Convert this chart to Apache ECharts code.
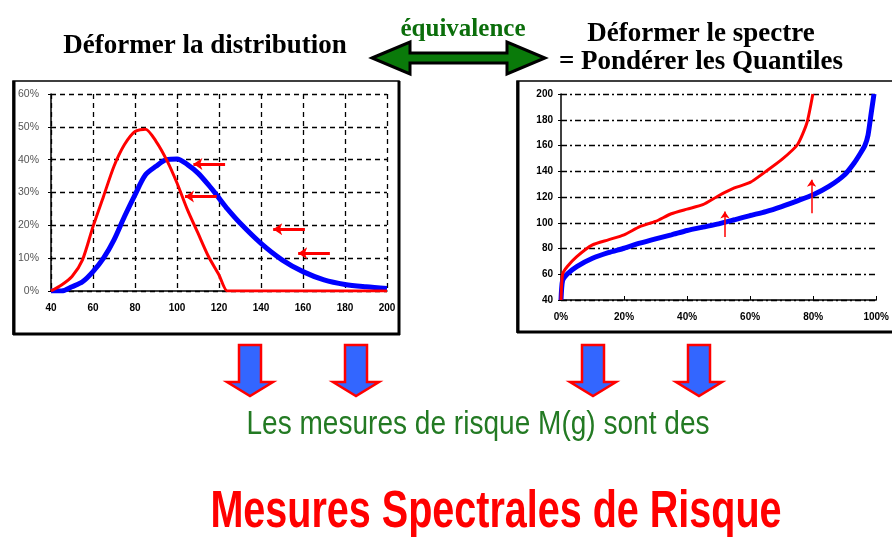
<!DOCTYPE html>
<html>
<head>
<meta charset="utf-8">
<script src="https://cdn.jsdelivr.net/npm/echarts@6/dist/echarts.min.js"></script>
<style>html,body{margin:0;padding:0;background:#fff;}#c{width:892px;height:537px;}</style>
</head>
<body>
<div id="c"></div>
<script>
// ---- Left chart: densities ----
const distX      = [40, 45, 50, 55, 60, 65, 70, 75, 80, 85, 90, 95, 100, 105, 110, 115, 120, 124, 130, 140, 150, 160, 170, 180, 190, 200];
const distRed    = [0, 0.018, 0.044, 0.095, 0.196, 0.288, 0.38, 0.446, 0.486, 0.493, 0.456, 0.40, 0.329, 0.247, 0.176, 0.105, 0.049, 0, 0, 0, 0, 0, 0, 0, 0, 0];
const distBlue   = [0, 0, 0.013, 0.028, 0.059, 0.10, 0.156, 0.227, 0.293, 0.354, 0.38, 0.40, 0.402, 0.385, 0.359, 0.323, 0.283, 0.25, 0.207, 0.145, 0.095, 0.059, 0.034, 0.02, 0.013, 0.008];
const distXTicks = [40, 60, 80, 100, 120, 140, 160, 180, 200];
const distYTicks = ['0%', '10%', '20%', '30%', '40%', '50%', '60%'];
// arrows (from -> to) on the left chart
const distArrows = [
  [[122.9, 0.387], [107.8, 0.387]],
  [[118.9, 0.288], [103.8, 0.288]],
  [[160.9, 0.188], [145.8, 0.188]],
  [[172.8, 0.115], [157.7, 0.115]]
];

// ---- Right chart: quantile functions ----
const quantRedP  = [0, 0.005, 0.02, 0.05, 0.10, 0.15, 0.20, 0.25, 0.30, 0.35, 0.40, 0.45, 0.50, 0.55, 0.60, 0.65, 0.70, 0.75, 0.78, 0.799];
const quantRedQ  = [40, 60, 66, 73.7, 82.8, 86.7, 90.6, 97, 101, 107, 110.6, 114, 121, 127, 131.3, 139.9, 149, 160.6, 177.5, 200];
const quantBlueP = [0, 0.005, 0.02, 0.05, 0.10, 0.15, 0.20, 0.25, 0.30, 0.35, 0.40, 0.45, 0.50, 0.55, 0.60, 0.65, 0.70, 0.75, 0.80, 0.85, 0.90, 0.93, 0.95, 0.964, 0.974, 0.984, 0.993];
const quantBlueQ = [40, 55, 60.2, 66, 72.4, 76.8, 80.2, 84.1, 87.5, 90.6, 94, 96.6, 99.1, 102.3, 105.6, 108.7, 112.6, 117, 121.7, 128.2, 137.3, 146.4, 154, 160, 168, 185, 200];
const quantXTicks = ['0%', '20%', '40%', '60%', '80%', '100%'];
const quantYTicks = [40, 60, 80, 100, 120, 140, 160, 180, 200];
const quantArrows = [
  [[0.52, 89], [0.52, 108.7]],
  [[0.795, 107.4], [0.795, 133.4]]
];

const pairs = (xs, ys) => xs.map((x, i) => [x, ys[i]]);

const chart = echarts.init(document.getElementById('c'), null, {renderer: 'canvas'});

const boldLbl = {color: '#000', fontFamily: 'Liberation Sans, Arial', fontWeight: 'bold', fontSize: 10};

function downArrow(cx) {
  const t = 345, sb = 382, tip = 396, sw = 11, hw = 23;
  return {
    type: 'polygon', z: 10,
    shape: {points: [[cx - sw, t], [cx + sw, t], [cx + sw, sb], [cx + hw, sb], [cx, tip], [cx - hw, sb], [cx - sw, sb]]},
    style: {fill: '#3366ff', stroke: '#ff0000', lineWidth: 2.5, lineJoin: 'miter'}
  };
}

const option = {
  backgroundColor: '#fff',
  animation: false,
  grid: [
    {left: 51, top: 94, width: 336, height: 197},
    {left: 561, top: 94, width: 322, height: 206}
  ],
  xAxis: [
    {
      type: 'value', gridIndex: 0, min: 40, max: 200, interval: 20,
      axisLine: {show: true, lineStyle: {color: '#000', width: 1.5}},
      axisTick: {show: false},
      axisLabel: Object.assign({margin: 12, formatter: v => distXTicks.includes(v) ? String(v) : ''}, boldLbl),
      splitLine: {show: true, lineStyle: {color: '#000', type: [5, 4], width: 1.3}}
    },
    {
      type: 'value', gridIndex: 1, min: 0, max: 1, interval: 0.2,
      axisLine: {show: true, lineStyle: {color: '#000', width: 1.5}},
      axisTick: {show: true, inside: true, length: 4, lineStyle: {color: '#000'}},
      axisLabel: Object.assign({margin: 12, formatter: v => quantXTicks[Math.round(v * 5)] || ''}, boldLbl),
      splitLine: {show: false}
    }
  ],
  yAxis: [
    {
      type: 'value', gridIndex: 0, min: 0, max: 0.6, interval: 0.1,
      axisLine: {show: true, lineStyle: {color: '#000', width: 1.5}},
      axisTick: {show: true, length: 3, lineStyle: {color: '#000'}},
      axisLabel: {margin: 12, color: '#555', fontFamily: 'Liberation Sans, Arial', fontSize: 10.5,
        formatter: v => distYTicks[Math.round(v * 10)] || ''},
      splitLine: {show: true, lineStyle: {color: '#000', type: [5, 4], width: 1.3}}
    },
    {
      type: 'value', gridIndex: 1, min: 40, max: 200, interval: 20,
      axisLine: {show: true, lineStyle: {color: '#000', width: 1.5}},
      axisTick: {show: true, length: 3, lineStyle: {color: '#000'}},
      axisLabel: Object.assign({margin: 8, formatter: v => quantYTicks.includes(v) ? String(v) : ''}, boldLbl),
      splitLine: {show: true, lineStyle: {color: '#000', type: [6, 3, 2, 3], width: 1.3}}
    }
  ],
  series: [
    {type: 'line', xAxisIndex: 0, yAxisIndex: 0, data: pairs(distX, distBlue), smooth: 0.3, showSymbol: false,
      lineStyle: {color: '#0000ff', width: 5}, z: 3},
    {type: 'line', xAxisIndex: 0, yAxisIndex: 0, data: pairs(distX, distRed), smooth: 0.25, showSymbol: false,
      lineStyle: {color: '#ff0000', width: 3}, z: 4},
    {type: 'lines', coordinateSystem: 'cartesian2d', xAxisIndex: 0, yAxisIndex: 0,
      data: distArrows.map(c => ({coords: c})), symbol: ['none', 'arrow'], symbolSize: 9,
      lineStyle: {color: '#ff0000', width: 3, opacity: 1}, z: 5},
    {type: 'line', xAxisIndex: 1, yAxisIndex: 1, data: pairs(quantBlueP, quantBlueQ), smooth: 0.2, showSymbol: false,
      lineStyle: {color: '#0000ff', width: 5}, z: 3},
    {type: 'line', xAxisIndex: 1, yAxisIndex: 1, data: pairs(quantRedP, quantRedQ), smooth: 0.2, showSymbol: false,
      lineStyle: {color: '#ff0000', width: 3}, z: 4},
    {type: 'lines', coordinateSystem: 'cartesian2d', xAxisIndex: 1, yAxisIndex: 1,
      data: quantArrows.map(c => ({coords: c})), symbol: ['none', 'arrow'], symbolSize: 7,
      lineStyle: {color: '#ff0000', width: 1.5, opacity: 1}, z: 5}
  ],
  graphic: [
    // frames
    {type: 'rect', z: -10, shape: {x: 13, y: 81, width: 386, height: 253}, style: {fill: '#fff', stroke: '#000', lineWidth: 1.5}},
    {type: 'line', z: -9, shape: {x1: 14, y1: 81, x2: 14, y2: 335}, style: {stroke: '#000', lineWidth: 3}},
    {type: 'line', z: -9, shape: {x1: 399, y1: 81, x2: 399, y2: 335}, style: {stroke: '#000', lineWidth: 3}},
    {type: 'line', z: -9, shape: {x1: 13, y1: 334, x2: 400, y2: 334}, style: {stroke: '#000', lineWidth: 3}},
    {type: 'rect', z: -10, shape: {x: 517, y: 81, width: 390, height: 251}, style: {fill: '#fff', stroke: '#000', lineWidth: 1.5}},
    {type: 'line', z: -9, shape: {x1: 518, y1: 81, x2: 518, y2: 333}, style: {stroke: '#000', lineWidth: 3}},
    {type: 'line', z: -9, shape: {x1: 517, y1: 332, x2: 892, y2: 332}, style: {stroke: '#000', lineWidth: 3}},
    // titles
    {type: 'text', x: 205, y: 46, style: {text: 'Déformer la distribution', font: 'bold 27px "Liberation Serif", "Times New Roman", serif', fill: '#000', align: 'center', verticalAlign: 'middle'}},
    {type: 'text', x: 463, y: 30, style: {text: 'équivalence', font: 'bold 25px "Liberation Serif", "Times New Roman", serif', fill: '#0b6e0b', align: 'center', verticalAlign: 'middle'}},
    {type: 'text', x: 701, y: 34, style: {text: 'Déformer le spectre', font: 'bold 27px "Liberation Serif", "Times New Roman", serif', fill: '#000', align: 'center', verticalAlign: 'middle'}},
    {type: 'text', x: 701, y: 62, style: {text: '= Pondérer les Quantiles', font: 'bold 27px "Liberation Serif", "Times New Roman", serif', fill: '#000', align: 'center', verticalAlign: 'middle'}},
    // green double arrow
    {type: 'polygon', shape: {points: [[372, 58], [410, 42], [410, 53], [507, 53], [507, 42], [545, 58], [507, 74], [507, 63], [410, 63], [410, 74]]},
      style: {fill: '#0a7a0a', stroke: '#000', lineWidth: 3, lineJoin: 'miter'}},
    // down arrows
    downArrow(250), downArrow(356), downArrow(593), downArrow(699),
    // bottom texts
    {type: 'text', x: 478, y: 425, scaleX: 0.85,
      style: {text: 'Les mesures de risque M(g) sont des', font: '33px "Liberation Sans", Arial, sans-serif', fill: '#237a23', align: 'center', verticalAlign: 'middle'}},
    {type: 'text', x: 496, y: 513, scaleX: 0.775,
      style: {text: 'Mesures Spectrales de Risque', font: 'bold 51px "Liberation Sans", Arial, sans-serif', fill: '#ff0000', align: 'center', verticalAlign: 'middle'}}
  ]
};
chart.setOption(option);
</script>
</body>
</html>
